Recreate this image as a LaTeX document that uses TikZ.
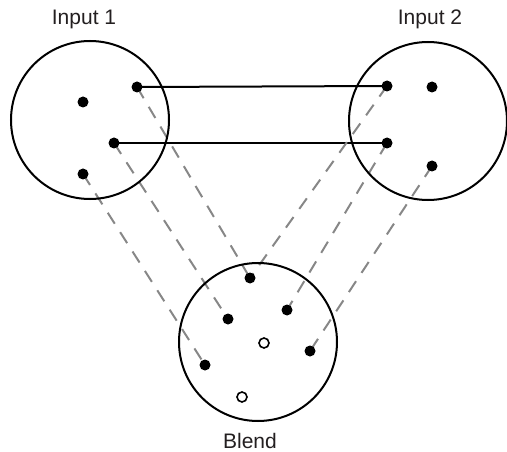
\documentclass[tikz,border=0pt]{standalone}
\usepackage{fontspec}
\setmainfont{Liberation Sans}
\pgfdeclarelayer{bg}
\pgfsetlayers{bg,main}
\begin{document}
\begin{tikzpicture}[x=1pt,y=-1pt,
  bigcirc/.style={circle,draw,line width=2pt,minimum size=158pt,inner sep=0pt},
  dot/.style={circle,fill=black,inner sep=0pt,minimum size=11pt},
  odot/.style={circle,draw=black,fill=white,line width=1.6pt,inner sep=0pt,minimum size=10pt},
  link/.style={line width=2pt},
  dlink/.style={line width=2pt,draw={rgb,255:red,135;green,135;blue,135},dash pattern=on 13pt off 10pt},
  lbl/.style={font=\fontsize{21}{23}\selectfont,text={rgb,255:red,35;green,31;blue,32}}]
\useasboundingbox (0,0) rectangle (507,452);
\node[bigcirc] (c1) at (90,120) {};
\node[bigcirc] (c2) at (428,121) {};
\node[bigcirc] (c3) at (258,342) {};
\node[lbl] (l1) at (84,19) {Input 1};
\node[lbl] (l2) at (430,19) {Input 2};
\node[lbl] (l3) at (250,441) {Blend};
% input 1
\node[dot] (a1) at (137,87) {};
\node[dot] (a2) at (83,102) {};
\node[dot] (a3) at (114,143) {};
\node[dot] (a4) at (83,174) {};
% input 2
\node[dot] (b1) at (387,86) {};
\node[dot] (b2) at (432,87) {};
\node[dot] (b3) at (387,143) {};
\node[dot] (b4) at (432,166) {};
% blend
\node[dot] (m1) at (250,278) {};
\node[dot] (m2) at (228,319) {};
\node[dot] (m3) at (287,310) {};
\node[dot] (m4) at (310,351) {};
\node[dot] (m5) at (205,365) {};
\node[odot] (o1) at (264,343) {};
\node[odot] (o2) at (242,397) {};
\begin{pgfonlayer}{bg}
\draw[link] (a1.center) -- (b1.center);
\draw[link] (a3.center) -- (b3.center);
\draw[dlink] (a1.center) -- (m1.center);
\draw[dlink] (a3.center) -- (m2.center);
\draw[dlink] (a4.center) -- (m5.center);
\draw[dlink] (b1.center) -- (m1.center);
\draw[dlink] (b3.center) -- (m3.center);
\draw[dlink] (b4.center) -- (m4.center);
\end{pgfonlayer}
\end{tikzpicture}
\end{document}
